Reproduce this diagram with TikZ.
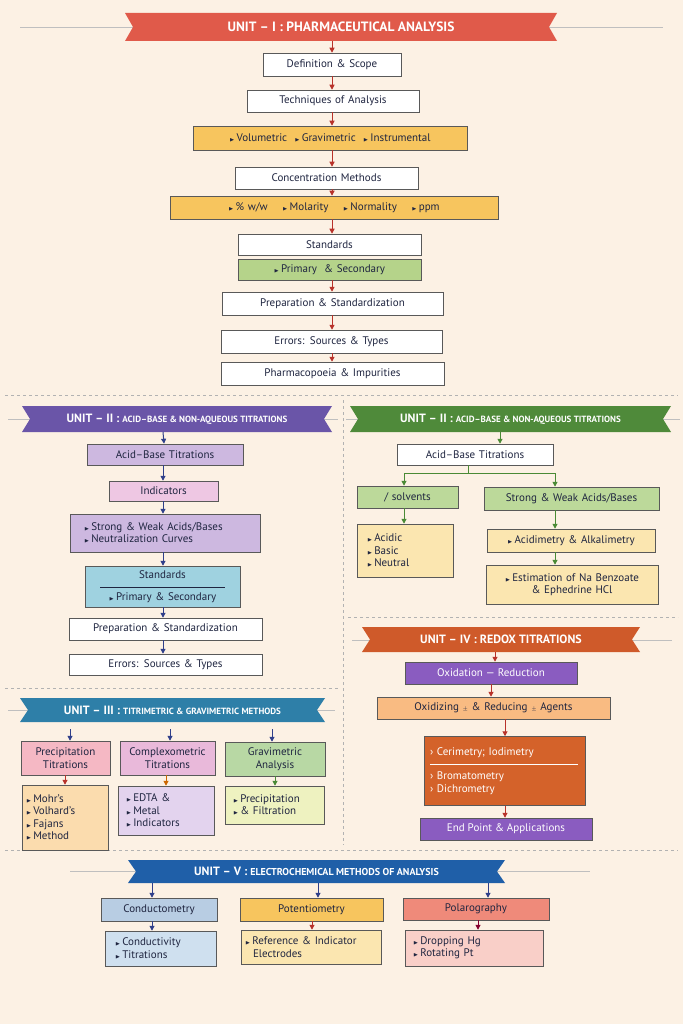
\documentclass[tikz,border=0pt]{standalone}
\usepackage{fontspec}
\usepackage{amssymb}
\setmainfont{PT Sans}
\usetikzlibrary{arrows.meta,calc}
\definecolor{bg}{HTML}{FCF1E4}
\definecolor{ink}{HTML}{1F2540}
\definecolor{cI}{HTML}{E05A4A}
\definecolor{cIIa}{HTML}{6A55A8}
\definecolor{cIIb}{HTML}{4F8A3A}
\definecolor{cIII}{HTML}{2E7FA8}
\definecolor{cIV}{HTML}{CF5A2A}
\definecolor{cV}{HTML}{1F5FA8}
\definecolor{yel}{HTML}{F7C55E}
\definecolor{grn}{HTML}{B5D38A}
\definecolor{lav}{HTML}{CDB8E0}
\definecolor{pnk}{HTML}{EEC7E3}
\definecolor{lbl}{HTML}{9FD2E0}
\definecolor{lgr}{HTML}{BCD99A}
\definecolor{lye}{HTML}{FBE6B0}
\definecolor{pur}{HTML}{8A5CC0}
\definecolor{pch}{HTML}{F9BB82}
\definecolor{org}{HTML}{D4622A}
\definecolor{rose}{HTML}{F5B8C4}
\definecolor{rlav}{HTML}{E9B9DA}
\definecolor{ggr}{HTML}{B8D8A4}
\definecolor{lor}{HTML}{FBDCAE}
\definecolor{llav}{HTML}{E3D3EE}
\definecolor{lyg}{HTML}{EEF2C0}
\definecolor{cblu}{HTML}{B8CDE3}
\definecolor{sal}{HTML}{EF8A7A}
\definecolor{lcb}{HTML}{CFE0EF}
\definecolor{lpk}{HTML}{F9CFC8}
\definecolor{aI}{HTML}{B8322A}
\definecolor{aII}{HTML}{2F3F8A}
\definecolor{aG}{HTML}{4A8A35}
\newcommand{\bul}{{\tiny$\blacktriangleright$}\,}
\newcommand{\bx}[8][center]{\node[box,align=#1,fill=#7,minimum width={(#5-#3)*1pt},minimum height={(#6-#4)*1pt},text width={(#5-#3-8)*1pt}] (#2) at ({(#3+#5)/2},{(#4+#6)/2}) {#8};}
\newcommand{\ban}[7]{\fill[#6] (#2,#3) -- (#4,#3) -- (#4-8,{(#3+#5)/2}) -- (#4,#5) -- (#2,#5) -- (#2+8,{(#3+#5)/2}) -- cycle;
\node[text=white,font=\bfseries\fontsize{12}{14}\selectfont] (#1) at ({(#2+#4)/2},{(#3+#5)/2}) {#7};}
\tikzset{
 box/.style={draw=gray!70!black,line width=0.5pt,inner sep=1pt,font=\fontsize{11}{12.5}\selectfont,text=ink},
 arr/.style={-{Triangle[length=5pt,width=5pt]},line width=1pt},
 sep/.style={gray!60,dashed,line width=0.5pt},
 lin/.style={gray!50,line width=0.6pt}
}
\newcommand{\sub}{\fontsize{9}{11}\selectfont}
\begin{document}
\begin{tikzpicture}[x=1pt,y=-1pt]
\fill[bg] (0,0) rectangle (683,1024);
\useasboundingbox (0,0) rectangle (683,1024);
% separators
\draw[sep] (5,395) -- (678,395);
\draw[sep] (343,400) -- (343,845);
\draw[sep] (5,688) -- (338,688);
\draw[sep] (348,617) -- (678,617);
\draw[sep] (5,850) -- (678,850);
% UNIT I
\draw[lin] (20,27) -- (663,27);
\ban{u1}{125}{13}{557}{41}{cI}{\fontsize{13.5}{15}\selectfont UNIT -- I : PHARMACEUTICAL ANALYSIS}
\bx{a1}{263}{53}{401}{76}{white}{Definition \& Scope}
\bx{a2}{247}{90}{419}{112}{white}{Techniques of Analysis}
\bx{a3}{193}{126}{467}{150}{yel}{\bul Volumetric \ \bul Gravimetric \ \bul Instrumental}
\bx{a4}{235}{167}{418}{189}{white}{Concentration Methods}
\bx{a5}{170}{196}{498}{219}{yel}{\bul \% w/w \quad \bul Molarity \quad \bul Normality \quad \bul ppm}
\bx{a6}{238}{234}{421}{255}{white}{Standards}
\bx{a7}{238}{259}{421}{280}{grn}{\bul Primary \ \& Secondary}
\bx{a8}{222}{292}{443}{315}{white}{Preparation \& Standardization}
\bx{a9}{221}{330}{442}{353}{white}{Errors: Sources \& Types}
\bx{a10}{221}{362}{444}{385}{white}{Pharmacopoeia \& Impurities}
\begin{scope}[aI]
\draw[arr] (332,41) -- (a1);
\foreach \p/\q in {a1/a2,a2/a3,a4/a5,a7/a8,a8/a9,a9/a10}{\draw[arr] (332,0|-\p.south) -- (332,0|-\q.north);}
\draw[arr] (332,0|-a3.south) -- (332,0|-a4.north);
\draw[arr] (332,0|-a5.south) -- (332,0|-a6.north);
\end{scope}
% UNIT II left
\draw[lin] (8,419) -- (338,419);
\ban{u2}{22}{406}{332}{432}{cIIa}{UNIT -- II : {\sub ACID--BASE \& NON-AQUEOUS TITRATIONS}}
\bx{b1}{87}{444}{243}{465}{lav}{Acid--Base Titrations}
\bx{b2}{109}{481}{218}{501}{pnk}{Indicators}
\bx[left]{b3}{70}{514}{260}{552}{lav}{\hspace*{10pt}\bul Strong \& Weak Acids/Bases\\\hspace*{10pt}\bul Neutralization Curves}
\bx{b4}{85}{566}{240}{607}{lbl}{Standards\\[-3pt]\rule{125pt}{0.4pt}\\\bul Primary \& Secondary}
\bx{b5}{69}{618}{262}{640}{white}{Preparation \& Standardization}
\bx{b6}{69}{654}{262}{675}{white}{Errors: Sources \& Types}
\begin{scope}[aII]
\draw[arr] (163,432) -- (b1);
\foreach \p/\q in {b1/b2,b2/b3,b3/b4,b4/b5,b5/b6}{\draw[arr] (163,0|-\p.south) -- (163,0|-\q.north);}
\end{scope}
% UNIT II right
\draw[lin] (346,419) -- (680,419);
\ban{u2r}{350}{406}{671}{432}{cIIb}{UNIT -- II : {\sub ACID--BASE \& NON-AQUEOUS TITRATIONS}}
\bx{c1}{397}{444}{553}{465}{white}{Acid--Base Titrations}
\bx{c2}{357}{486}{458}{508}{lgr}{/ solvents}
\bx{c3}{484}{487}{659}{510}{lgr}{Strong \& Weak Acids/Bases}
\bx[left]{c4}{357}{524}{453}{577}{lye}{\hspace*{6pt}\bul Acidic\\\hspace*{6pt}\bul Basic\\\hspace*{6pt}\bul Neutral}
\bx{c5}{487}{529}{655}{552}{lye}{\bul Acidimetry \& Alkalimetry}
\bx{c6}{486}{565}{658}{604}{lye}{\bul Estimation of Na Benzoate\\\& Ephedrine HCl}
\coordinate (cj) at (468,473);
\begin{scope}[aG]
\draw[arr] (500,432) -- (c1.north-|500,0);
\draw[line width=1pt] (c1.south-|cj) -- (cj);
\draw[line width=1pt] (404,473) -- (555,473);
\draw[arr] (404,473) -- (c2.north-|404,0);
\draw[arr] (555,473) -- (c3.north-|555,0);
\draw[arr] (404,0|-c2.south) -- (404,0|-c4.north);
\draw[arr] (555,0|-c3.south) -- (555,0|-c5.north);
\draw[arr] (555,0|-c5.south) -- (555,0|-c6.north);
\end{scope}
% UNIT IV
\draw[lin] (352,640) -- (672,640);
\ban{u4}{362}{627}{640}{652}{cIV}{UNIT -- IV : REDOX TITRATIONS}
\node[box,fill=pur,text=white,minimum width=172pt,minimum height=22pt] (d1) at (491,673) {Oxidation --- Reduction};
\bx{d2}{377}{697}{610}{719}{pch}{Oxidizing $\scriptscriptstyle\pm$ \& Reducing $\scriptscriptstyle\pm$ Agents}
\node[box,fill=org,text=white,minimum width=161pt,minimum height=69pt,text width=150pt,align=left] (d3) at (505,771) {› Cerimetry; Iodimetry\\[-3pt]\rule{148pt}{1pt}\\[2pt]› Bromatometry\\› Dichrometry};
\node[box,fill=pur,text=white,minimum width=172pt,minimum height=22pt] (d4) at (506,829) {End Point \& Applications};
\begin{scope}[aI]
\draw[arr] (495,652) -- (495,0|-d1.north);
\draw[arr] (491,0|-d1.south) -- (491,0|-d2.north);
\draw[arr] (505,0|-d2.south) -- (d3);
\draw[arr] (505,0|-d3.south) -- (505,0|-d4.north);
\end{scope}
% UNIT III
\draw[lin] (8,710) -- (335,710);
\ban{u3}{20}{698}{325}{722}{cIII}{UNIT -- III : {\sub TITRIMETRIC \& GRAVIMETRIC METHODS}}
\bx{e1}{21}{741}{110}{775}{rose}{Precipitation\\Titrations}
\bx{e2}{120}{741}{215}{775}{rlav}{Complexometric\\Titrations}
\bx{e3}{225}{742}{325}{776}{ggr}{Gravimetric\\Analysis}
\bx[left]{e4}{22}{785}{108}{850}{lor}{\bul Mohr's\\\bul Volhard's\\\bul Fajans\\\bul Method}
\bx[left]{e5}{118}{786}{214}{835}{llav}{\hspace*{4pt}\bul EDTA \&\\\hspace*{4pt}\bul Metal\\\hspace*{4pt}\bul Indicators}
\bx[left]{e6}{225}{786}{324}{824}{lyg}{\hspace*{4pt}\bul Precipitation\\\hspace*{4pt}\bul \& Filtration}
\coordinate (t1) at (70,729); \coordinate (t2) at (170,729); \coordinate (t3) at (272,729);
\draw[arr,aII] (t1) -- (t1|-e1.north);
\draw[arr,aII] (t2) -- (t2|-e2.north);
\draw[arr,aII] (t3) -- (t3|-e3.north);
\draw[arr,aI] (65,0|-e1.south) -- (65,0|-e4.north);
\draw[arr,orange!80!black] (166,0|-e2.south) -- (166,0|-e5.north);
\draw[arr,aG] (275,0|-e3.south) -- (275,0|-e6.north);
% UNIT V
\draw[lin] (70,871) -- (590,871);
\ban{u5}{128}{860}{505}{883}{cV}{UNIT -- V : {\fontsize{10}{12}\selectfont ELECTROCHEMICAL METHODS OF ANALYSIS}}
\bx{f1}{101}{898}{217}{921}{cblu}{Conductometry}
\bx{f2}{240}{898}{383}{921}{yel}{Potentiometry}
\bx{f3}{403}{898}{549}{920}{sal}{Polarography}
\bx[left]{f4}{105}{931}{216}{966}{lcb}{\hspace*{6pt}\bul Conductivity\\\hspace*{6pt}\bul Titrations}
\bx[left]{f5}{241}{930}{381}{964}{lye}{\bul Reference \& Indicator\\\hspace*{8pt}Electrodes}
\bx[left]{f6}{405}{930}{543}{966}{lpk}{\hspace*{4pt}\bul Dropping Hg\\\hspace*{4pt}\bul Rotating Pt}
\coordinate (v1) at (152,883); \coordinate (v2) at (318,883); \coordinate (v3) at (488,883);
\draw[arr,aII] (v1) -- (v1|-f1.north);
\draw[arr,aII] (v2) -- (v2|-f2.north);
\draw[arr,aII] (v3) -- (v3|-f3.north);
\draw[arr,aII] (152,0|-f1.south) -- (152,0|-f4.north);
\draw[arr,aI] (312,0|-f2.south) -- (312,0|-f5.north);
\draw[arr,purple!70!black] (478,0|-f3.south) -- (478,0|-f6.north);
\end{tikzpicture}
\end{document}
